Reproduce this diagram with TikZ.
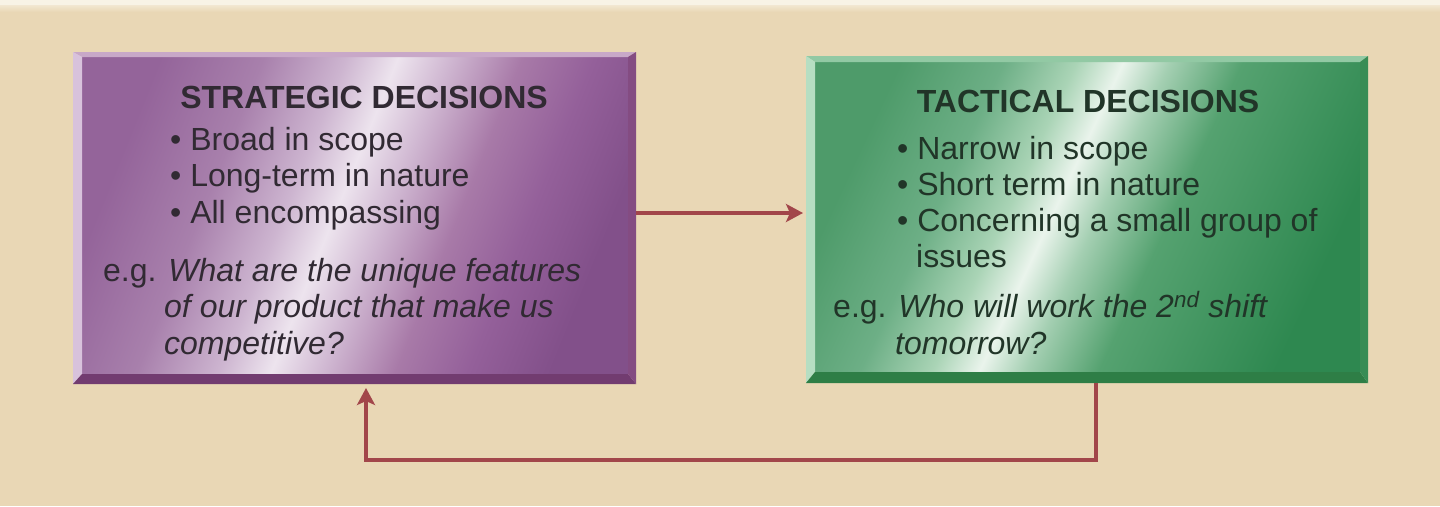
\documentclass[tikz,border=0pt]{standalone}
\usepackage{fontspec}
\setmainfont{Liberation Sans}
\usetikzlibrary{arrows.meta,calc}
\definecolor{bg}{HTML}{E9D7B5}
\definecolor{bgtop}{HTML}{F8F3E6}
\definecolor{arrowred}{HTML}{A2464A}
\definecolor{ltext}{HTML}{312A33}
\definecolor{rtext}{HTML}{213528}
% purple
\definecolor{pA}{HTML}{94649A}
\definecolor{pB}{HTML}{A880AC}
\definecolor{pC}{HTML}{CDB5D0}
\definecolor{pW}{HTML}{EDE4EE}
\definecolor{pD}{HTML}{D0B8D2}
\definecolor{pE}{HTML}{A87AA8}
\definecolor{pG}{HTML}{94609A}
\definecolor{pF}{HTML}{82508A}
\definecolor{pTop}{HTML}{C8A8C8}
\definecolor{pLeft}{HTML}{D8C2DC}
\definecolor{pBot}{HTML}{723C70}
\definecolor{pRight}{HTML}{844C82}
% green
\definecolor{gA}{HTML}{4E9B6A}
\definecolor{gB}{HTML}{6DAF86}
\definecolor{gC}{HTML}{AAD4B6}
\definecolor{gW}{HTML}{EAF4EC}
\definecolor{gD}{HTML}{A4CFB2}
\definecolor{gE}{HTML}{55A270}
\definecolor{gF}{HTML}{2E8850}
\definecolor{gTop}{HTML}{92C9A4}
\definecolor{gLeft}{HTML}{B6DEC2}
\definecolor{gBot}{HTML}{2E7E46}
\definecolor{gRight}{HTML}{388C55}
\pgfdeclarehorizontalshading{purshade}{100bp}{color(0bp)=(pA); color(25bp)=(pA); color(35bp)=(pB); color(43bp)=(pC); color(48bp)=(pW); color(53bp)=(pD); color(60bp)=(pE); color(67bp)=(pG); color(75bp)=(pF); color(100bp)=(pF)}
\pgfdeclarehorizontalshading{grnshade}{100bp}{color(0bp)=(gA); color(25bp)=(gA); color(35bp)=(gB); color(42bp)=(gC); color(46.5bp)=(gW); color(51bp)=(gD); color(58bp)=(gE); color(75bp)=(gF); color(100bp)=(gF)}
\tikzset{
  boxnode/.style={inner sep=0pt, outer sep=0pt},
  arr/.style={draw=arrowred, line width=4pt, -{Stealth[length=17pt, width=18pt, inset=4pt]}},
  ltxt/.style={inner sep=0pt, anchor=base west, text=ltext, font=\fontsize{32}{38}\selectfont},
  rtxt/.style={inner sep=0pt, anchor=base west, text=rtext, font=\fontsize{32}{38}\selectfont},
  ttl/.style={inner sep=0pt, anchor=base, font=\fontsize{32}{38}\selectfont\bfseries},
}
\begin{document}
\begin{tikzpicture}[x=1pt,y=-1pt]
\useasboundingbox (0,0) rectangle (1440,506);
\fill[bg] (0,0) rectangle (1440,506);
\shade[top color=bgtop, bottom color=bg] (0,0) rectangle (1440,12);
\fill[bgtop] (0,0) rectangle (1440,5);

% ---------- left box ----------
\node[boxnode, minimum width=563pt, minimum height=332pt] (L) at (354.5,218) {};
\coordinate (Li1) at ($(L.north west)+(9,5)$);
\coordinate (Li2) at ($(L.north east)+(-8,5)$);
\coordinate (Li3) at ($(L.south east)+(-8,-10)$);
\coordinate (Li4) at ($(L.south west)+(9,-10)$);
\shade[shading=purshade, shading angle=-22] (Li1) rectangle (Li3);
\fill[pTop] (L.north west) -- (L.north east) -- (Li2) -- (Li1) -- cycle;
\fill[pLeft] (L.north west) -- (Li1) -- (Li4) -- (L.south west) -- cycle;
\fill[pBot] (L.south west) -- (Li4) -- (Li3) -- (L.south east) -- cycle;
\fill[pRight] (L.north east) -- (L.south east) -- (Li3) -- (Li2) -- cycle;

% ---------- right box ----------
\node[boxnode, minimum width=562pt, minimum height=327pt] (R) at (1087,219.5) {};
\coordinate (Ri1) at ($(R.north west)+(9,6)$);
\coordinate (Ri2) at ($(R.north east)+(-8,6)$);
\coordinate (Ri3) at ($(R.south east)+(-8,-11)$);
\coordinate (Ri4) at ($(R.south west)+(9,-11)$);
\shade[shading=grnshade, shading angle=-25] (Ri1) rectangle (Ri3);
\fill[gTop] (R.north west) -- (R.north east) -- (Ri2) -- (Ri1) -- cycle;
\fill[gLeft] (R.north west) -- (Ri1) -- (Ri4) -- (R.south west) -- cycle;
\fill[gBot] (R.south west) -- (Ri4) -- (Ri3) -- (R.south east) -- cycle;
\fill[gRight] (R.north east) -- (R.south east) -- (Ri3) -- (Ri2) -- cycle;

% ---------- left text ----------
\node[ttl, text=ltext] (lt) at (364,108) {STRATEGIC DECISIONS};
\node[ltxt] (lb1) at (170,150) {• Broad in scope};
\node[ltxt] (lb2) at (170,186) {• Long-term in nature};
\node[ltxt] (lb3) at (170,223) {• All encompassing};
\node[ltxt] (le1) at (103,281) {e.g. \textit{What are the unique features}};
\node[ltxt] (le2) at (164,317) {\textit{of our product that make us}};
\node[ltxt] (le3) at (164,354) {\textit{competitive?}};

% ---------- right text ----------
\node[ttl, text=rtext] (rt) at (1088,112) {TACTICAL DECISIONS};
\node[rtxt] (rb1) at (897,159) {• Narrow in scope};
\node[rtxt] (rb2) at (897,195) {• Short term in nature};
\node[rtxt] (rb3) at (897,231) {• Concerning a small group of};
\node[rtxt] (rb4) at (916,267) {issues};
\node[rtxt] (re1) at (833,317) {e.g. \textit{Who will work the 2\textsuperscript{nd} shift}};
\node[rtxt] (re2) at (895,354) {\textit{tomorrow?}};

% ---------- connectors ----------
\draw[arr] (L.east |- 0,213) -- ($(R.west |- 0,213)+(-3,0)$);
\draw[arr] (R.south -| 1096,0) -- (1096,460) -- (366,460) -- ($(L.south -| 366,0)+(0,4)$);
\end{tikzpicture}
\end{document}
